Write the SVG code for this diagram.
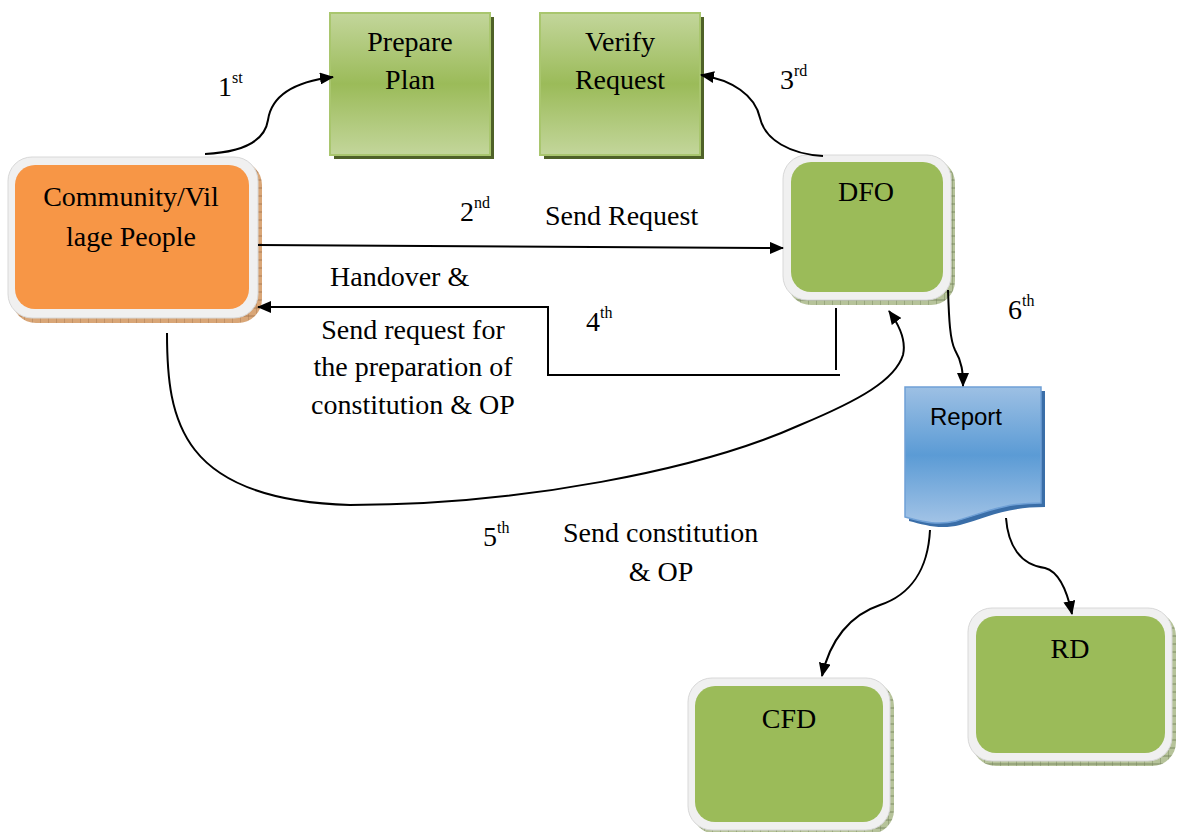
<svg xmlns="http://www.w3.org/2000/svg" width="1178" height="832" viewBox="0 0 1178 832">
<style>
.t{font-size:28px;fill:#000}
.c{text-anchor:middle}
.sup{font-size:16px}
.rs{font-size:24px;fill:#000}
.con{fill:none;stroke:#000;stroke-width:2}
.outer{fill:#f0f0f0;stroke:#d8d8d8;stroke-width:1}
.green{fill:#9bbb59}
.orange{fill:#f79646}
</style>
<defs>
<marker id="ah" viewBox="0 0 14 12" refX="13" refY="6" markerWidth="14" markerHeight="12" markerUnits="userSpaceOnUse" orient="auto">
<path d="M0,0 L14,6 L0,12 Z" fill="#000"/>
</marker>
<linearGradient id="gg" x1="0" y1="0" x2="0" y2="1">
<stop offset="0" stop-color="#c3d69b"/>
<stop offset="0.5" stop-color="#9bbb59"/>
<stop offset="1" stop-color="#c3d69b"/>
</linearGradient>
<linearGradient id="bg" x1="0" y1="0" x2="0" y2="1">
<stop offset="0" stop-color="#9dc0e4"/>
<stop offset="0.5" stop-color="#5b9bd5"/>
<stop offset="1" stop-color="#a2c3e6"/>
</linearGradient>
<pattern id="hb" width="8" height="8" patternUnits="userSpaceOnUse">
<rect width="8" height="8" fill="#d9a677"/>
<path d="M0,0 L0,8 M0,4 L8,4" stroke="#a0714a" stroke-width="0.8"/>
</pattern>
<pattern id="hg" width="8" height="8" patternUnits="userSpaceOnUse">
<rect width="8" height="8" fill="#b6c39a"/>
<path d="M0,0 L0,8 M0,4 L8,4" stroke="#6f7d55" stroke-width="0.8"/>
</pattern>
</defs>

<g font-family="Liberation Serif, serif">
<g id="community">
<rect x="12" y="161" width="250" height="162" rx="24" fill="url(#hb)"/>
<rect class="outer" x="8" y="157" width="250" height="161" rx="24"/>
<rect class="orange" x="15" y="165" width="234" height="144" rx="20"/>
<text class="t c" x="131" y="206">Community/Vil</text>
<text class="t c" x="131" y="246">lage People</text>
</g>

<g id="prepare-plan">
<rect x="334" y="17" width="160" height="142" fill="#4f6228"/>
<rect x="330" y="13" width="160" height="142" fill="url(#gg)" stroke="#a9c66e" stroke-width="2"/>
<text class="t c" x="410" y="51">Prepare</text>
<text class="t c" x="410" y="89">Plan</text>
</g>

<g id="verify-request">
<rect x="544" y="17" width="160" height="142" fill="#4f6228"/>
<rect x="540" y="13" width="160" height="142" fill="url(#gg)" stroke="#a9c66e" stroke-width="2"/>
<text class="t c" x="620" y="51">Verify</text>
<text class="t c" x="620" y="89">Request</text>
</g>

<g id="dfo">
<rect x="787" y="159" width="168" height="146" rx="24" fill="url(#hg)"/>
<rect class="outer" x="783" y="155" width="168" height="145" rx="24"/>
<rect class="green" x="791" y="162" width="152" height="130" rx="20"/>
<text class="t c" x="866" y="201">DFO</text>
</g>

<g id="report">
<path d="M909,391 L1045,391 L1045,507 C1005,507 985,518 960,525 C940,530 925,525 909,521 Z" fill="#3a6ea8"/>
<path d="M905,387 L1041,387 L1041,503 C1001,503 981,514 956,521 C936,526 921,521 905,517 Z" fill="url(#bg)" stroke="#6fa0d6" stroke-width="1.5"/>
<text class="rs c" x="966" y="425" font-family="Liberation Sans, sans-serif">Report</text>
</g>

<g id="cfd">
<rect x="692" y="682" width="202" height="152" rx="24" fill="url(#hg)"/>
<rect class="outer" x="688" y="678" width="202" height="152" rx="24"/>
<rect class="green" x="695" y="686" width="188" height="136" rx="20"/>
<text class="t c" x="789" y="728">CFD</text>
</g>

<g id="rd">
<rect x="972" y="612" width="204" height="154" rx="24" fill="url(#hg)"/>
<rect class="outer" x="968" y="608" width="204" height="153" rx="24"/>
<rect class="green" x="976" y="616" width="189" height="137" rx="20"/>
<text class="t c" x="1070" y="658">RD</text>
</g>

<g id="connectors">
<path class="con" d="M205,154 C245,152 265,140 268,120 C272,92 300,81 333,77" marker-end="url(#ah)"/>
<path class="con" d="M823,156 C790,154 765,140 760,118 C755,95 732,80 701,75" marker-end="url(#ah)"/>
<path class="con" stroke-width="1.3" d="M258,245 L783,248" marker-end="url(#ah)"/>
<path class="con" d="M836,308 L836,370"/>
<path class="con" d="M840,375 L548,375 L548,307 L258,307" marker-end="url(#ah)"/>
<path class="con" d="M167,333 C167,420 180,500 350,505 C520,505 700,470 800,425 C860,400 895,380 903,355 C907,338 897,322 889,311" marker-end="url(#ah)"/>
<path class="con" d="M948,290 C949,320 950,340 955,350 C962,362 963,372 963,386" marker-end="url(#ah)"/>
<path class="con" d="M930,530 C928,570 910,595 880,605 C850,615 830,640 822,676" marker-end="url(#ah)"/>
<path class="con" d="M1006,518 C1008,545 1020,565 1045,568 C1060,572 1068,595 1072,614" marker-end="url(#ah)"/>
</g>

<g id="labels">
<text class="t" x="218" y="96">1<tspan class="sup" dy="-13">st</tspan></text>
<text class="t" x="780" y="89">3<tspan class="sup" dy="-13">rd</tspan></text>
<text class="t" x="460" y="221">2<tspan class="sup" dy="-13">nd</tspan></text>
<text class="t" x="545" y="225">Send Request</text>
<text class="t" x="330" y="286">Handover &amp;</text>
<text class="t" x="586" y="331">4<tspan class="sup" dy="-13">th</tspan></text>
<text class="t c" x="413" y="339">Send request for</text>
<text class="t c" x="413" y="376">the preparation of</text>
<text class="t c" x="413" y="414">constitution &amp; OP</text>
<text class="t" x="1008" y="319">6<tspan class="sup" dy="-13">th</tspan></text>
<text class="t" x="483" y="546">5<tspan class="sup" dy="-13">th</tspan></text>
<text class="t" x="563" y="542">Send constitution</text>
<text class="t c" x="661" y="581">&amp; OP</text>
</g>
</g>
</svg>
